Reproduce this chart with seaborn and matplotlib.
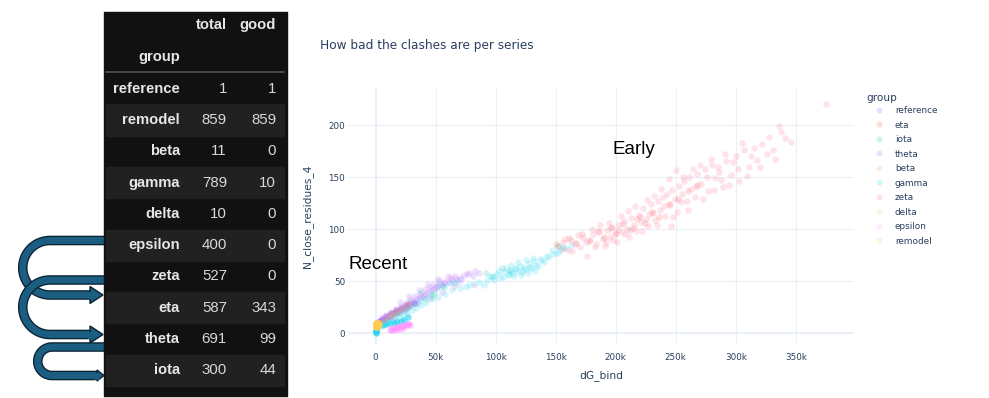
import numpy as np
import pandas as pd
import seaborn as sns
import matplotlib.pyplot as plt
import matplotlib.patheffects as pe
from matplotlib.lines import Line2D
from matplotlib.patches import Rectangle, Polygon

# ---- summary table (left) ----
tbl_groups = ['reference', 'remodel', 'beta', 'gamma', 'delta',
              'epsilon', 'zeta', 'eta', 'theta', 'iota']
tbl_total = [1, 859, 11, 789, 10, 400, 527, 587, 691, 300]
tbl_good = [1, 859, 0, 10, 0, 0, 0, 343, 99, 44]

# ---- scatter data, dG_bind in thousands ----
legend_order = ['reference', 'eta', 'iota', 'theta', 'beta',
                'gamma', 'zeta', 'delta', 'epsilon', 'remodel']
colors = ['#636EFA', '#EF553B', '#00CC96', '#AB63FA', '#FFA15A',
          '#19D3F3', '#FF6692', '#B6E880', '#FF97FF', '#FECB52']

reference_x = [1]
reference_y = [9]

eta_x = [150, 155, 161, 167, 172, 179, 185, 190, 196, 200, 206, 212, 218, 224, 230, 236, 244, 252, 260, 268]
eta_y = [86, 81, 92, 87, 95, 90, 98, 93, 101, 96, 105, 99, 110, 106, 117, 112, 124, 129, 137, 143]

iota_x = [6, 12, 18, 25, 33, 41, 49, 57, 66, 92, 98, 105, 112, 152, 28, 38, 47, 54]
iota_y = [10, 15, 19, 24, 29, 33, 39, 44, 48, 58, 55, 63, 60, 84, 30, 40, 36, 47]

theta_x = [2, 4, 6, 8, 10, 12, 14, 16, 18, 20, 22, 24, 26, 28, 30, 32, 34, 36, 38, 40,
           42, 44, 46, 48, 50, 52, 55, 58, 61, 64, 67, 70, 74, 78, 83, 20, 28, 36, 44, 52, 60,
           5, 9, 13, 17, 21, 25, 29, 33, 37, 41, 45, 49, 53, 57, 62, 66, 71, 76, 81, 86,
           15, 25, 35, 45, 55, 65]
theta_y = [10, 12, 13, 14, 16, 17, 18, 20, 21, 22, 24, 25, 27, 28, 30, 31, 33, 34, 35, 37,
           38, 40, 41, 42, 44, 45, 46, 48, 49, 51, 52, 53, 56, 58, 60, 30, 36, 41, 47, 52, 55,
           15, 17, 20, 23, 26, 29, 33, 36, 38, 42, 44, 47, 50, 49, 53, 55, 52, 57, 55, 58,
           14, 22, 29, 34, 40, 45]
theta_core_x = [2, 4, 6, 8, 10, 12, 14, 16, 18, 20, 23, 26, 29, 32, 5, 9, 13, 17, 21, 25]
theta_core_y = [11, 12, 13, 14, 15, 16, 18, 19, 20, 21, 23, 25, 27, 29, 14, 16, 19, 22, 24, 27]

beta_x = [4, 7, 10, 12, 14, 16, 18, 20, 23, 26, 29]
beta_y = [10, 13, 15, 17, 18, 20, 21, 23, 25, 27, 29]

gamma_x = [2, 5, 8, 11, 14, 17, 20, 23, 26, 30, 34, 38, 42, 47, 52, 58, 64, 70, 78, 86,
           93, 97, 101, 104, 107, 110, 112, 114, 116, 118, 120, 122, 124, 126, 128, 130,
           132, 134, 137, 140, 144, 148, 153, 158, 163,
           6, 10, 15, 19, 24, 28, 33, 37, 41, 46, 51, 56, 62, 68, 75, 82, 90, 95, 99, 103,
           106, 109, 111, 113, 115, 117, 119, 121, 123, 125, 127, 129, 131, 133, 135, 139,
           143, 147, 151, 156]
gamma_y = [5, 7, 9, 10, 12, 13, 15, 17, 19, 22, 24, 27, 29, 33, 35, 38, 41, 43, 46, 49,
           51, 54, 57, 53, 59, 56, 61, 58, 63, 60, 65, 59, 64, 62, 67, 63,
           69, 66, 71, 68, 73, 76, 79, 82, 85,
           9, 12, 15, 18, 21, 25, 28, 32, 34, 38, 43, 45, 48, 50, 44, 47, 46, 55, 51, 60,
           54, 63, 57, 66, 55, 62, 68, 56, 61, 70, 58, 64, 72, 60, 65, 70,
           74, 80, 77, 83]
gamma_core_x = [0, 0, 0, 0, 6, 9, 12, 15, 18, 21, 24, 27]
gamma_core_y = [0, 1, 2, 3, 8, 9, 10, 10, 11, 12, 13, 15]

zeta_x = [152, 156, 160, 163, 166, 170, 173, 176, 178, 181, 184, 186, 189, 191, 193,
          195, 197, 199, 201, 203, 205, 207, 209, 211, 213, 215, 217, 219, 221, 223,
          225, 227, 229, 231, 233, 235, 237, 239, 241, 243, 245, 247, 249, 251, 253,
          255, 257, 259, 261, 263, 266, 268, 271, 274, 277, 280, 283, 286, 289, 292,
          296, 300, 303, 307, 311, 315, 318, 322, 326, 331, 336, 341, 346, 375, 246,
          158, 164, 169, 175, 180, 183, 187, 192, 194, 198, 202, 204, 208, 210, 214,
          216, 220, 222, 226, 228, 232, 234, 238, 240, 244, 248, 250, 254, 256, 260,
          264, 267, 270, 273, 276, 279, 282, 285, 288, 291, 294, 298, 302, 305, 309,
          313, 320, 328, 333, 338]
zeta_y = [84, 88, 80, 90, 86, 83, 92, 74, 89, 95, 86, 97, 91, 84, 99,
          93, 102, 95, 88, 104, 97, 108, 100, 93, 111, 104, 98, 114, 107, 120,
          110, 103, 124, 116, 109, 127, 119, 131, 113, 134, 123, 138, 129, 117, 142,
          134, 146, 127, 150, 139, 131, 153, 144, 158, 137, 162, 149, 155, 141, 166,
          152, 171, 146, 176, 160, 178, 167, 182, 172, 176, 199, 188, 184, 221, 103,
          91, 79, 94, 88, 100, 83, 104, 88, 106, 90, 99, 113, 95, 118, 101,
          122, 112, 98, 128, 115, 132, 104, 139, 122, 148, 112, 157, 126, 150, 119,
          158, 141, 162, 129, 150, 168, 138, 160, 147, 172, 143, 165, 158, 183, 151,
          171, 160, 189, 168, 194]

delta_x = [1, 3, 5, 8, 11, 14, 17, 20, 24, 28]
delta_y = [8, 10, 11, 13, 15, 17, 18, 20, 23, 25]

epsilon_x = [40, 50, 58, 64, 70, 82]
epsilon_y = [36, 44, 50, 54, 48, 46]
epsilon_core_x = [12, 13, 14, 15, 16, 17, 18, 19, 20, 21, 22, 23, 24, 25, 26, 27, 28, 14, 17, 20, 23, 29]
epsilon_core_y = [4, 3, 5, 4, 5, 5, 6, 6, 6, 7, 7, 7, 8, 8, 8, 9, 9, 3, 3, 4, 5, 8]

remodel_core_x = [0, 0, 1, 1, 2, 2, 3, 0.5, 0, 1, 2, 0, 1]
remodel_core_y = [7, 9, 8, 9, 8, 7, 9, 8, 10, 10, 10, 6, 6]

xtick_k = [0, 50, 100, 150, 200, 250, 300, 350]
ytick_vals = [0, 50, 100, 150, 200]

series = {
    'reference': [(reference_x, reference_y, 'main')],
    'eta': [(eta_x, eta_y, 'main')],
    'iota': [(iota_x, iota_y, 'main')],
    'theta': [(theta_x, theta_y, 'main'), (theta_core_x, theta_core_y, 'core')],
    'beta': [(beta_x, beta_y, 'main')],
    'gamma': [(gamma_x, gamma_y, 'main'), (gamma_core_x, gamma_core_y, 'core')],
    'zeta': [(zeta_x, zeta_y, 'main')],
    'delta': [(delta_x, delta_y, 'main')],
    'epsilon': [(epsilon_x, epsilon_y, 'main'), (epsilon_core_x, epsilon_core_y, 'core')],
    'remodel': [(remodel_core_x, remodel_core_y, 'core')],
}
rows = []
for g, parts in series.items():
    for xs, ys, layer in parts:
        for x, y in zip(xs, ys):
            rows.append({'group': g, 'dG_bind': x * 1000, 'N_close_residues_4': y, 'layer': layer})
df = pd.DataFrame(rows)
palette = dict(zip(legend_order, colors))
core_alpha = {'theta': 0.45, 'gamma': 0.55, 'epsilon': 0.45, 'remodel': 0.85}

sns.set_style('white')
plt.rcParams['font.family'] = ['DejaVu Sans']

W, H = 989, 398
fig = plt.figure(figsize=(W / 100, H / 100), dpi=100)

# pixel canvas for the table and the arrows
cv = fig.add_axes([0, 0, 1, 1])
cv.set_xlim(0, W)
cv.set_ylim(H, 0)
cv.axis('off')

FILL, EDGE = '#1b5e82', '#0b2232'


def draw_arrow(x_start, y_top, y_bot, cx, head_base, head_tip, head_half):
    r = (y_bot - y_top) / 2
    cy = y_top + r
    t = np.linspace(0, np.pi, 60)
    xs = np.concatenate([[x_start], cx - r * np.sin(t), [head_base + 1.5]])
    ys = np.concatenate([[y_top], cy - r * np.cos(t), [y_bot]])
    cv.plot(xs, ys, color=FILL, lw=5.0, solid_capstyle='butt', solid_joinstyle='round',
            path_effects=[pe.Stroke(linewidth=6.9, foreground=EDGE), pe.Normal()], zorder=1)
    cv.add_patch(Polygon([(head_base, y_bot - head_half), (head_tip, y_bot),
                          (head_base, y_bot + head_half)], closed=True,
                         facecolor=FILL, edgecolor=EDGE, lw=1.0, zorder=2))
    cv.plot([head_base - 3, head_base + 2], [y_bot, y_bot], color=FILL, lw=5.0,
            solid_capstyle='butt', zorder=3)


draw_arrow(106, 240.5, 295, 50, 90, 103, 8.5)
draw_arrow(106, 280, 334.5, 50, 90, 103, 8.5)
draw_arrow(106, 347, 375.5, 52, 97, 104, 5.5)

# table
cv.add_patch(Rectangle((104, 12), 183, 384, color='#111111', zorder=5))
row_h = 31.3
for i, g in enumerate(tbl_groups):
    top = 73 + row_h * i
    if i % 2 == 1:
        cv.add_patch(Rectangle((106, top), 178, row_h, color='#212121', zorder=6))
    yc = top + row_h / 2
    cv.text(180, yc, g, ha='right', va='center', fontsize=10.6, fontweight='bold',
            family='Liberation Sans', color='#e6e6e6', zorder=7)
    cv.text(227, yc, str(tbl_total[i]), ha='right', va='center', fontsize=10.8,
            family='Liberation Sans', color='#d8d8d8', zorder=7)
    cv.text(276, yc, str(tbl_good[i]), ha='right', va='center', fontsize=10.8,
            family='Liberation Sans', color='#d8d8d8', zorder=7)
cv.text(227, 25, 'total', ha='right', va='center', fontsize=10.6, fontweight='bold',
        family='Liberation Sans', color='#e6e6e6', zorder=7)
cv.text(276, 25, 'good', ha='right', va='center', fontsize=10.6, fontweight='bold',
        family='Liberation Sans', color='#e6e6e6', zorder=7)
cv.text(180, 57, 'group', ha='right', va='center', fontsize=10.6, fontweight='bold',
        family='Liberation Sans', color='#e6e6e6', zorder=7)
cv.plot([106, 284], [72, 72], color='#4d4d4d', lw=1.3, zorder=7)

# scatter
left, right, top, bottom = 348, 854, 87, 345
ax = fig.add_axes([left / W, 1 - bottom / H, (right - left) / W, (bottom - top) / H])
ax.set_facecolor('white')

for g in legend_order:
    for layer in ['main', 'core']:
        sub = df[(df['group'] == g) & (df['layer'] == layer)]
        if sub.empty:
            continue
        a = 0.18 if layer == 'main' else core_alpha[g]
        sns.scatterplot(data=sub, x='dG_bind', y='N_close_residues_4', color=palette[g],
                        alpha=a, s=22, linewidth=0, ax=ax, legend=False, zorder=3)

ax.set_xlim(-23000, 398500)
ax.set_ylim(-11.5, 237)
ax.set_xticks([v * 1000 for v in xtick_k])
ax.set_xticklabels(['0' if v == 0 else f'{v}k' for v in xtick_k])
ax.set_yticks(ytick_vals)
ax.grid(True, color='#EBF0F8', lw=0.8, zorder=0)
ax.axvline(0, color='#EBF0F8', lw=1.5, zorder=1)
ax.axhline(0, color='#EBF0F8', lw=1.5, zorder=1)
ax.set_axisbelow(True)
sns.despine(ax=ax, left=True, bottom=True)
ax.tick_params(axis='both', length=0, labelsize=6.3, colors='#2a3f5f')
ax.tick_params(axis='x', pad=6)
ax.tick_params(axis='y', pad=2)
ax.set_xlabel('dG_bind', fontsize=7.7, color='#2a3f5f')
ax.set_ylabel('N_close_residues_4', fontsize=7.7, color='#2a3f5f')
ax.xaxis.set_label_coords(0.5, -(370 - bottom) / (bottom - top))
ax.yaxis.set_label_coords(-(left - 313) / (right - left), 0.5)

fig.text(320 / W, 1 - 45 / H, 'How bad the clashes are per series', fontsize=8.7,
         color='#2a3f5f', va='center')

fig.text(349 / W, 1 - 269 / H, 'Recent', fontsize=13.5, family='Liberation Sans',
         color='black', va='baseline')
fig.text(612 / W, 1 - 154 / H, 'Early', fontsize=13.5, family='Liberation Sans',
         color='black', va='baseline')

# legend
fig.text(866 / W, 1 - 98 / H, 'group', fontsize=7.6, color='#2a3f5f', va='center')
handles = [Line2D([], [], marker='o', ls='', color=palette[g], alpha=0.2, markersize=4.3,
                  markeredgewidth=0) for g in legend_order]
fig.legend(handles, legend_order, loc='upper left', bbox_to_anchor=(874.5 / W, 1 - 106 / H),
           frameon=False, fontsize=6.4, handlelength=1.0, handletextpad=1.3,
           labelspacing=0.62, borderpad=0, borderaxespad=0, labelcolor='#2a3f5f')

fig.savefig('out.png', dpi=100)
